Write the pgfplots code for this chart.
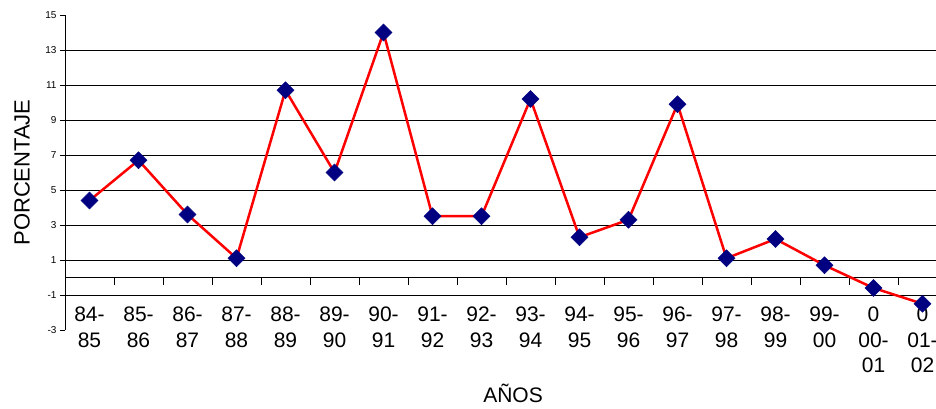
\documentclass[border=0pt]{standalone}
\usepackage{pgfplots}
\pgfplotsset{compat=1.18}
\usepackage{fontspec}
\setmainfont{Liberation Sans}
\definecolor{navymk}{RGB}{0,0,128}
\begin{document}
\begin{tikzpicture}
\path[use as bounding box] (0pt,0pt) rectangle (936pt,409pt);
\clip (0pt,0pt) rectangle (936pt,409pt);
\begin{axis}[
  at={(65pt,79pt)}, anchor=south west,
  scale only axis, width=882pt, height=315pt,
  xmin=-0.5, xmax=17.5, ymin=-3, ymax=15,
  axis x line=middle, axis y line=left,
  axis line style={-, black, line width=0.8pt},
  xtick={0,...,17},
  xticklabels={84-\\85,85-\\86,86-\\87,87-\\88,88-\\89,89-\\90,90-\\91,91-\\92,92-\\93,93-\\94,94-\\95,95-\\96,96-\\97,97-\\98,98-\\99,99-\\00,0\\00-\\01,0\\01-\\02},
  x tick label style={font=\fontsize{21}{25.5}\selectfont, align=center, anchor=north, yshift=-21pt},
  major x tick style={draw=none},
  minor xtick={-0.5,0.5,...,16.5},
  minor x tick style={black, line width=0.8pt},
  minor tick length=7pt,
  xtick align=outside,
  ytick={-3,-1,...,15},
  ytick align=outside,
  major tick length=5pt,
  y tick style={black, line width=0.8pt},
  y tick label style={font=\fontsize{10}{12}\selectfont},
  /pgf/number format/assume math mode=true,
  extra y ticks={-1,1,...,13},
  extra y tick labels={},
  extra y tick style={grid=major, major tick length=0pt},
  grid style={black, line width=0.8pt},
  ylabel={PORCENTAJE},
  xlabel={AÑOS},
  every axis y label/.style={at={(axis description cs:-0.0488,0.5)}, rotate=90, anchor=center, font=\fontsize{22}{26}\selectfont},
  every axis x label/.style={at={(axis description cs:0.508,-0.202)}, anchor=center, font=\fontsize{21}{25}\selectfont},
  clip=false,
]
\addplot[red, line width=2.5pt, mark=square*, mark size=6pt,
  mark options={fill=navymk, draw=navymk, rotate=45, line width=0.5pt}]
  coordinates {
  (0,4.4) (1,6.7) (2,3.6) (3,1.1) (4,10.7) (5,6.0) (6,14.0) (7,3.5) (8,3.5)
  (9,10.2) (10,2.3) (11,3.3) (12,9.9) (13,1.1) (14,2.2) (15,0.7) (16,-0.6) (17,-1.5)
  };
\end{axis}
\end{tikzpicture}
\end{document}
